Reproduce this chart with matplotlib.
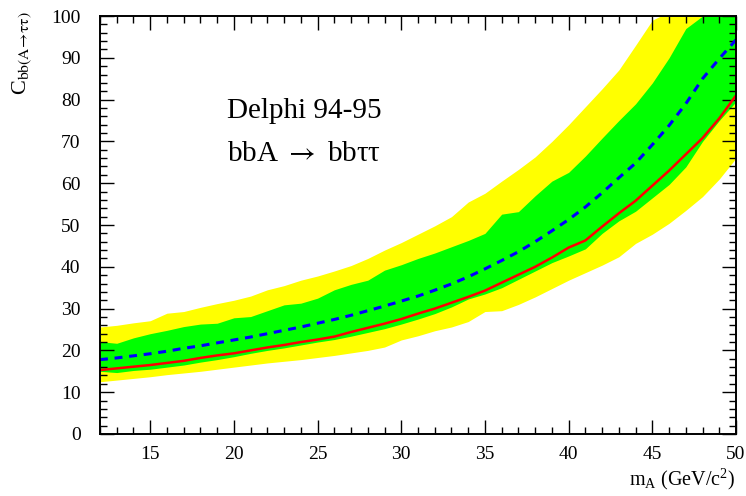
import numpy as np
import matplotlib
matplotlib.use("Agg")
import matplotlib.pyplot as plt

plt.rcParams['font.family'] = ['Liberation Serif', 'DejaVu Serif']
plt.rcParams['mathtext.fontset'] = 'custom'
plt.rcParams['mathtext.rm'] = 'Liberation Serif'
plt.rcParams['mathtext.it'] = 'Liberation Serif'

# mass points (GeV/c^2)
mass = np.arange(12, 51)

observed = [15.3, 15.7, 16.1, 16.5, 17.0, 17.5, 18.2, 18.8, 19.3, 20.0,
            20.7, 21.3, 22.0, 22.6, 23.3, 24.4, 25.4, 26.4, 27.5, 28.8,
            30.0, 31.4, 32.8, 34.3, 36.2, 38.1, 40.0, 42.2, 44.6, 46.3,
            49.6, 52.8, 55.8, 59.4, 63.0, 66.9, 70.8, 75.5, 81.0]

expected = [17.8, 18.2, 18.7, 19.2, 19.8, 20.5, 21.1, 21.8, 22.5, 23.2,
            24.0, 24.8, 25.6, 26.5, 27.4, 28.4, 29.5, 30.6, 31.8, 33.0,
            34.4, 35.9, 37.6, 39.5, 41.5, 43.6, 46.0, 48.6, 51.3, 54.3,
            57.7, 61.3, 64.8, 69.2, 73.8, 79.0, 85.0, 89.8, 94.3]

sig1_hi = [22.1, 21.7, 23.0, 24.0, 24.8, 25.7, 26.3, 26.5, 27.8, 28.1,
           29.5, 30.9, 31.3, 32.5, 34.5, 35.8, 36.8, 39.2, 40.5, 42.0,
           43.3, 44.8, 46.3, 48.0, 52.6, 53.2, 57.0, 60.5, 62.6, 66.5,
           70.8, 75.0, 79.0, 84.0, 90.0, 97.0, 100.0, 102.0, 104.0]

sig1_lo = [15.0, 14.7, 15.2, 15.5, 16.0, 16.5, 17.2, 17.8, 18.5, 19.3,
           20.0, 20.6, 21.3, 22.0, 22.6, 23.4, 24.3, 25.2, 26.3, 27.5,
           28.8, 30.4, 32.3, 33.5, 35.0, 37.0, 39.0, 41.0, 42.6, 44.3,
           48.0, 51.0, 53.3, 56.5, 59.7, 63.9, 70.0, 75.0, 79.5]

sig2_hi = [25.6, 26.0, 26.6, 27.1, 28.9, 29.3, 30.3, 31.2, 32.0, 33.0,
           34.5, 35.5, 36.8, 37.8, 39.0, 40.3, 42.0, 44.0, 45.8, 47.8,
           49.8, 52.0, 55.5, 57.6, 60.5, 63.3, 66.3, 70.0, 74.0, 78.3,
           82.6, 87.1, 93.0, 99.0, 101.0, 104.0, 107.0, 110.0, 113.0]

sig2_lo = [12.5, 12.9, 13.3, 13.7, 14.2, 14.6, 15.0, 15.5, 16.0, 16.5,
           17.0, 17.4, 17.8, 18.3, 18.8, 19.4, 20.0, 20.8, 22.5, 23.5,
           24.7, 25.6, 26.9, 29.3, 29.5, 31.0, 32.8, 34.8, 36.8, 38.6,
           40.4, 42.4, 45.6, 47.8, 50.4, 53.5, 56.8, 61.0, 66.0]

fig = plt.figure(figsize=(7.46, 4.96), dpi=100)
ax = fig.add_axes([0.134, 0.125, 0.8526, 0.8427])

ax.fill_between(mass, sig2_lo, sig2_hi, color='#ffff00', lw=0)
ax.fill_between(mass, sig1_lo, sig1_hi, color='#00ff00', lw=0)
ax.plot(mass, expected, color='#0000ff', lw=2.2, ls=(0, (2.6, 2.2)))
ax.plot(mass, observed, color='#ff0000', lw=1.8)

ax.set_xlim(12, 50)
ax.set_ylim(0, 100)
ax.set_xticks([15, 20, 25, 30, 35, 40, 45, 50])
ax.set_xticks(np.arange(12, 51, 1), minor=True)
ax.set_yticks(np.arange(0, 101, 10))
ax.set_yticks(np.arange(0, 101, 2), minor=True)
ax.tick_params(which='both', direction='in', top=True, right=True,
               labelsize=14, width=1.0)
ax.tick_params(which='major', length=10)
ax.tick_params(which='minor', length=5)
ax.tick_params(axis='x', pad=8.5)
ax.tick_params(axis='y', pad=14)
for s in ax.spines.values():
    s.set_linewidth(1.4)

ax.text(0.2, 0.755, 'Delphi 94-95', transform=ax.transAxes, fontsize=21)
ax.text(0.2, 0.652, r'bbA $\rightarrow$ bbττ', transform=ax.transAxes,
        fontsize=21, math_fontfamily='stix')

fig.text(0.03, 0.977,
         r'C$_{\mathrm{bb(A}\!\rightarrow\!\mathrm{\tau\tau)}}$',
         rotation=90, ha='center', va='top', fontsize=16,
         math_fontfamily='stix')
fig.text(0.986, 0.008, r'm$_{\mathregular{A}}$ (GeV/c$^{\mathregular{2}}$)',
         ha='right', va='bottom', fontsize=14.5)

fig.savefig('out.png', dpi=100)
